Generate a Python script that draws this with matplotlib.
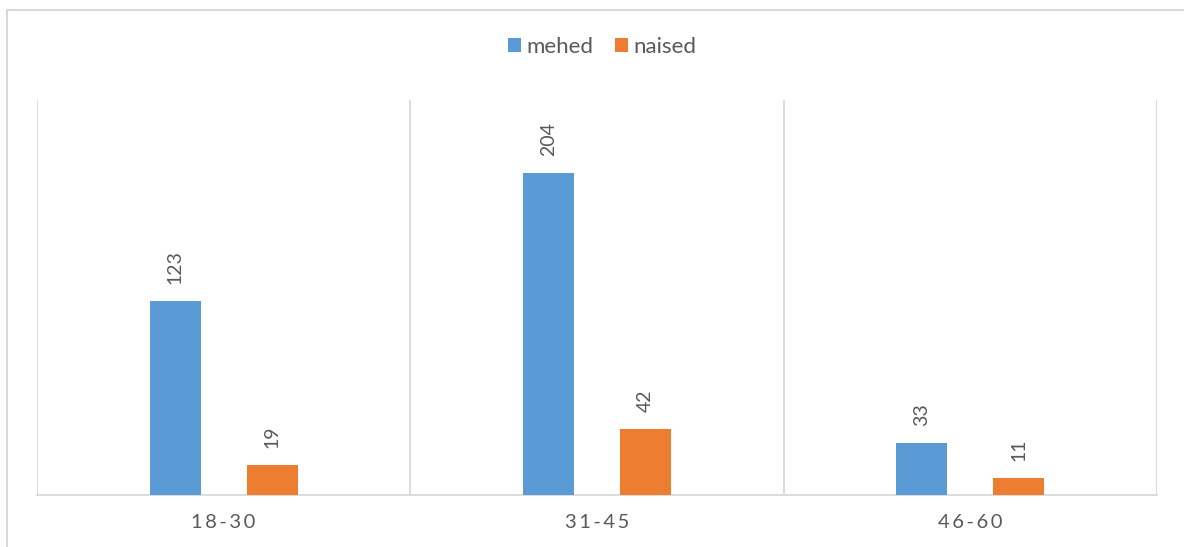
import numpy as np
import matplotlib.pyplot as plt
from matplotlib.lines import Line2D

# data
categories = ['18-30', '31-45', '46-60']
mehed = [123, 204, 33]
naised = [19, 42, 11]
series_names = ['mehed', 'naised']

blue = '#5B9BD5'
orange = '#ED7D31'
grey_txt = '#595959'
grid_c = '#D9D9D9'

plt.rcParams['font.family'] = ['Lato', 'DejaVu Sans']

fig = plt.figure(figsize=(11.84, 5.47), dpi=100)
ax = fig.add_axes([37 / 1184, 52 / 547, 1120 / 1184, 395 / 547])

x = np.arange(len(categories))
w = 0.137
off = 0.13
b1 = ax.bar(x - off, mehed, w, color=blue, label=series_names[0], zorder=3)
b2 = ax.bar(x + off, naised, w, color=orange, label=series_names[1], zorder=3)

# rotated value labels above bars
for bars, vals in ((b1, mehed), (b2, naised)):
    for rect, v in zip(bars, vals):
        ax.annotate(str(v), (rect.get_x() + rect.get_width() / 2, v),
                    xytext=(0, 12), textcoords='offset points',
                    rotation=90, ha='center', va='bottom',
                    fontsize=14, color=grey_txt)

ax.set_xlim(-0.5, 2.5)
ax.set_ylim(0, 250)

# vertical separators between categories
for xv in [-0.5, 0.5, 1.5, 2.5]:
    ax.axvline(xv, color=grid_c, lw=1.3, zorder=1)

for s in ['top', 'left', 'right']:
    ax.spines[s].set_visible(False)
ax.spines['bottom'].set_color(grid_c)
ax.spines['bottom'].set_linewidth(1.3)

ax.set_yticks([])
ax.set_xticks(x)
ax.set_xticklabels(['\u2009'.join(c) for c in categories], fontsize=14.5, color=grey_txt)
ax.tick_params(axis='x', length=0, pad=14)

fig.legend(loc='center', bbox_to_anchor=(602 / 1184, 1 - 47 / 547), ncol=2,
           frameon=False, fontsize=16, labelcolor=grey_txt,
           handlelength=0.6, handleheight=0.6, handletextpad=0.2,
           columnspacing=1.0)

# outer chart border (left and top edges visible)
fig.add_artist(Line2D([7 / 1184, 7 / 1184], [0, 1 - 10 / 547],
                      transform=fig.transFigure, color=grid_c, lw=1.5))
fig.add_artist(Line2D([7 / 1184, 1], [1 - 10 / 547, 1 - 10 / 547],
                      transform=fig.transFigure, color=grid_c, lw=1.5))

plt.savefig('out.png', dpi=100)
